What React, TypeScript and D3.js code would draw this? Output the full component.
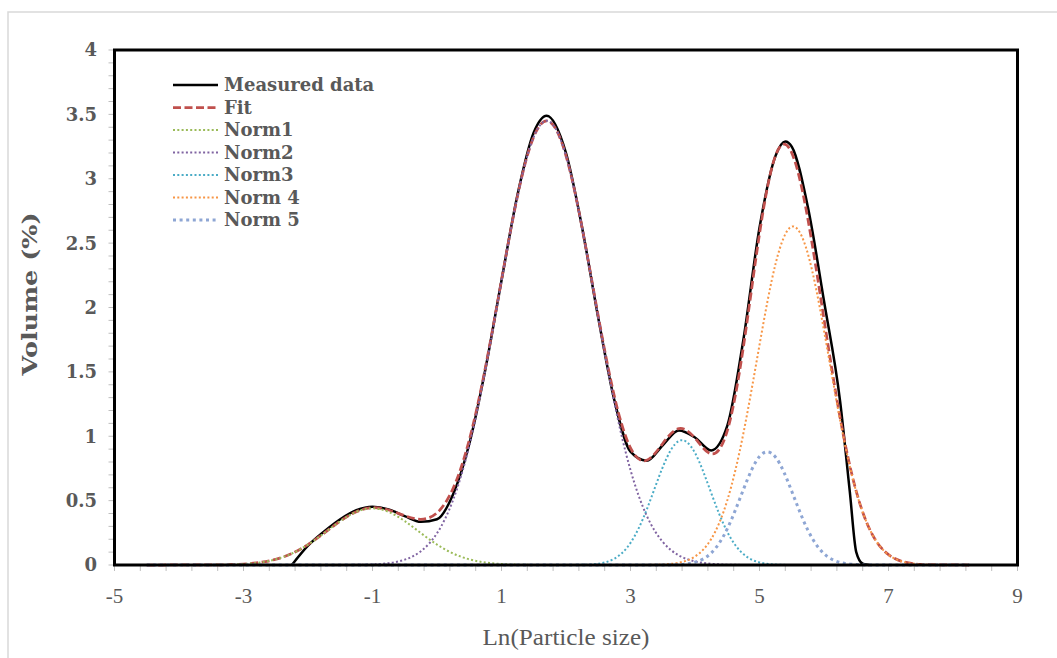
import React from "react";
import * as d3 from "d3";

// Ln(particle size) sampling grid shared by the fit and its normal components
const xGrid = [
  -4.5, -4.25, -4.0, -3.75, -3.5, -3.25, -3.0, -2.75, -2.5, -2.25, -2.0, -1.75, -1.5, -1.25, -1.0, -0.75,
  -0.5, -0.25, 0, 0.25, 0.5, 0.75, 1.0, 1.25, 1.5, 1.75, 2.0, 2.25, 2.5, 2.75, 3.0, 3.25, 3.5, 3.75,
  4.0, 4.25, 4.5, 4.75, 5.0, 5.25, 5.5, 5.75, 6.0, 6.25, 6.5, 6.75, 7.0, 7.25, 7.5, 7.75, 8.0, 8.25,
];

const fitValues = [
  0, 0, 0.0001, 0.0002, 0.0007, 0.0025, 0.0074, 0.0193, 0.0443, 0.0894, 0.1586, 0.248, 0.3412, 0.414, 0.4444, 0.4272,
  0.3824, 0.3551, 0.4051, 0.5952, 0.9706, 1.5323, 2.213, 2.8701, 3.3267, 3.4422, 3.1783, 2.619, 1.9334, 1.3098, 0.9093, 0.8135,
  0.9438, 1.0589, 0.9854, 0.8636, 1.0417, 1.6928, 2.5721, 3.1817, 3.2011, 2.6874, 1.9094, 1.1443, 0.572, 0.236, 0.08, 0.0223,
  0.0051, 0.0009, 0.0001, 0,
];

const norm1Values = [
  0, 0, 0.0001, 0.0002, 0.0007, 0.0025, 0.0074, 0.0193, 0.0443, 0.0894, 0.1586, 0.2479, 0.3409, 0.4128, 0.44, 0.4128,
  0.3409, 0.2479, 0.1586, 0.0894, 0.0443, 0.0193, 0.0074, 0.0025, 0.0007, 0.0002, 0.0001, 0, 0, 0, 0, 0,
  0, 0, 0, 0, 0, 0, 0, 0, 0, 0, 0, 0, 0, 0, 0, 0, 0, 0, 0, 0,
];

const norm2Values = [
  0, 0, 0, 0, 0, 0, 0, 0, 0, 0, 0, 0.0001, 0.0003, 0.0012, 0.0044, 0.0144,
  0.0415, 0.1072, 0.2465, 0.5058, 0.9263, 1.513, 2.2056, 2.8676, 3.326, 3.442, 3.178, 2.6175, 1.9234, 1.2606, 0.7373, 0.3847,
  0.179, 0.0743, 0.0276, 0.0091, 0.0027, 0.0007, 0.0002, 0, 0, 0, 0, 0, 0, 0, 0, 0, 0, 0, 0, 0,
];

const norm3Values = [
  0, 0, 0, 0, 0, 0, 0, 0, 0, 0, 0, 0, 0, 0, 0, 0,
  0, 0, 0, 0, 0, 0, 0, 0, 0, 0, 0.0002, 0.0015, 0.01, 0.0492, 0.1719, 0.4281,
  0.7605, 0.9635, 0.8706, 0.561, 0.2578, 0.0845, 0.0198, 0.0033, 0.0004, 0, 0, 0, 0, 0, 0, 0, 0, 0, 0, 0,
];

const norm4Values = [
  0, 0, 0, 0, 0, 0, 0, 0, 0, 0, 0, 0, 0, 0, 0, 0,
  0, 0, 0, 0, 0, 0, 0, 0, 0, 0, 0, 0, 0, 0, 0.0001, 0.0007,
  0.0039, 0.0178, 0.0661, 0.2009, 0.5007, 1.022, 1.709, 2.3415, 2.628, 2.4172, 1.8215, 1.1246, 0.5689, 0.2357, 0.08, 0.0223,
  0.0051, 0.0009, 0.0001, 0,
];

const norm5Values = [
  0, 0, 0, 0, 0, 0, 0, 0, 0, 0, 0, 0, 0, 0, 0, 0,
  0, 0, 0, 0, 0, 0, 0, 0, 0, 0, 0, 0, 0, 0, 0, 0,
  0.0004, 0.0033, 0.0211, 0.0926, 0.2805, 0.5856, 0.8431, 0.8369, 0.5727, 0.2702, 0.0879, 0.0197, 0.0031, 0.0003, 0, 0,
  0, 0, 0, 0,
];

// Measured distribution
const measuredX = [
  -2.25, -2.0, -1.75, -1.5, -1.25, -1.0, -0.75, -0.5, -0.25, 0, 0.25, 0.5, 0.75, 1.0, 1.25, 1.5, 1.7, 2.0,
  2.25, 2.5, 2.75, 3.0, 3.25, 3.5, 3.75, 4.0, 4.25, 4.5, 4.75, 5.0, 5.25, 5.4, 5.5, 5.75, 6.0, 6.25, 6.4, 6.5, 6.6, 6.7,
];
const measuredY = [
  0, 0.15, 0.26, 0.355, 0.425, 0.452, 0.432, 0.38, 0.335, 0.355, 0.55, 0.94, 1.52, 2.21, 2.88, 3.36, 3.49, 3.2,
  2.62, 1.92, 1.28, 0.88, 0.81, 0.93, 1.045, 0.99, 0.89, 1.08, 1.75, 2.62, 3.18, 3.29, 3.25, 2.78, 2.05, 1.27, 0.57, 0.1, 0.01, 0,
];

const xTickValues = [-5, -3, -1, 1, 3, 5, 7, 9];
const xTickLabels = ["-5", "-3", "-1", "1", "3", "5", "7", "9"];
const yTickValues = [0, 0.5, 1, 1.5, 2, 2.5, 3, 3.5, 4];
const yTickLabels = ["0", "0.5", "1", "1.5", "2", "2.5", "3", "3.5", "4"];

const legendNames = ["Measured data", "Fit", "Norm1", "Norm2", "Norm3", "Norm 4", "Norm 5"];

const TEXT = "#595959";
const TICK = "#BFBFBF";

type Style = { color: string; width: number; dash?: string };

const styles: Style[] = [
  { color: "#000000", width: 2.5 },
  { color: "#C0504D", width: 2.75, dash: "8 3.5" },
  { color: "#9BBB59", width: 2, dash: "2 2.3" },
  { color: "#8064A2", width: 2, dash: "2 2.3" },
  { color: "#4BACC6", width: 2, dash: "2 2.3" },
  { color: "#F79646", width: 2, dash: "2 2.3" },
  { color: "#8EA6D4", width: 3, dash: "3 3.6" },
];

export default function App() {
  const width = 1057;
  const height = 658;
  const left = 114.5;
  const right = 1017.5;
  const top = 50;
  const bottom = 565;

  const x = d3.scaleLinear().domain([-5, 9]).range([left, right]);
  const y = d3.scaleLinear().domain([0, 4]).range([bottom, top]);

  const xMinor = d3.range(0, 36).map((i) => -5 + i * 0.4);
  const yMinor = d3.range(0, 41).map((i) => i * 0.1);

  const smooth = d3
    .line<number>()
    .x((_, i) => x(xGrid[i]))
    .y((d) => y(Math.max(0, d)))
    .curve(d3.curveNatural);

  const measuredLine = d3
    .line<number>()
    .x((_, i) => x(measuredX[i]))
    .y((d) => y(d))
    .curve(d3.curveMonotoneX);

  const paths = [
    measuredLine(measuredY) || "",
    smooth(fitValues) || "",
    smooth(norm1Values) || "",
    smooth(norm2Values) || "",
    smooth(norm3Values) || "",
    smooth(norm4Values) || "",
    smooth(norm5Values) || "",
  ];

  const legendX0 = 173;
  const legendX1 = 218;
  const legendY0 = 85;
  const legendStep = 22.5;

  return (
    <svg
      width={width}
      height={height}
      style={{ position: "absolute", left: 0, top: 0, background: "#ffffff" }}
    >
      <rect x={8} y={12} width={1100} height={700} fill="#ffffff" stroke="#D9D9D9" strokeWidth={1.5} />

      {/* minor / major tick marks */}
      {xMinor.map((v, i) => (
        <line key={"xt" + i} x1={x(v)} x2={x(v)} y1={bottom} y2={bottom + 6} stroke={TICK} strokeWidth={1} />
      ))}
      {yMinor.map((v, i) => (
        <line key={"yt" + i} x1={left - 6} x2={left} y1={y(v)} y2={y(v)} stroke={TICK} strokeWidth={1} />
      ))}

      {/* series */}
      <g fill="none" strokeLinejoin="round">
        {paths.map((d, i) => (
          <path
            key={"s" + i}
            d={d}
            stroke={styles[i].color}
            strokeWidth={styles[i].width}
            strokeDasharray={styles[i].dash}
          />
        ))}
      </g>

      {/* plot area border */}
      <rect x={left} y={top} width={right - left} height={bottom - top} fill="none" stroke="#000" strokeWidth={3} />

      {/* tick labels */}
      {xTickValues.map((v, i) => (
        <text
          key={"xl" + i}
          x={x(v)}
          y={603}
          textAnchor="middle"
          fontFamily="'Liberation Serif', serif"
          fontSize={21}
          fill={TEXT}
        >
          {xTickLabels[i]}
        </text>
      ))}
      {yTickValues.map((v, i) => (
        <text
          key={"yl" + i}
          x={97}
          y={y(v)}
          dy="0.36em"
          textAnchor="end"
          fontFamily="'DejaVu Serif', serif"
          fontWeight="bold"
          fontSize={18}
          fill={TEXT}
        >
          {yTickLabels[i]}
        </text>
      ))}

      {/* axis titles */}
      <text
        x={(left + right) / 2}
        y={645}
        textAnchor="middle"
        fontFamily="'Liberation Serif', serif"
        fontSize={24}
        textLength={167}
        lengthAdjust="spacingAndGlyphs"
        fill={TEXT}
      >
        Ln(Particle size)
      </text>
      <text
        transform="translate(37,294) rotate(-90)"
        textAnchor="middle"
        fontFamily="'DejaVu Serif', serif"
        fontWeight="bold"
        fontSize={20}
        textLength={163}
        lengthAdjust="spacingAndGlyphs"
        fill={TEXT}
      >
        Volume (%)
      </text>

      {/* legend */}
      {legendNames.map((name, i) => {
        const cy = legendY0 + i * legendStep;
        return (
          <g key={"lg" + i}>
            <line
              x1={legendX0}
              x2={legendX1}
              y1={cy}
              y2={cy}
              stroke={styles[i].color}
              strokeWidth={styles[i].width}
              strokeDasharray={styles[i].dash}
            />
            <text
              x={224}
              y={cy}
              dy="0.36em"
              fontFamily="'DejaVu Serif', serif"
              fontWeight="bold"
              fontSize={18}
              fill={TEXT}
            >
              {name}
            </text>
          </g>
        );
      })}
    </svg>
  );
}
